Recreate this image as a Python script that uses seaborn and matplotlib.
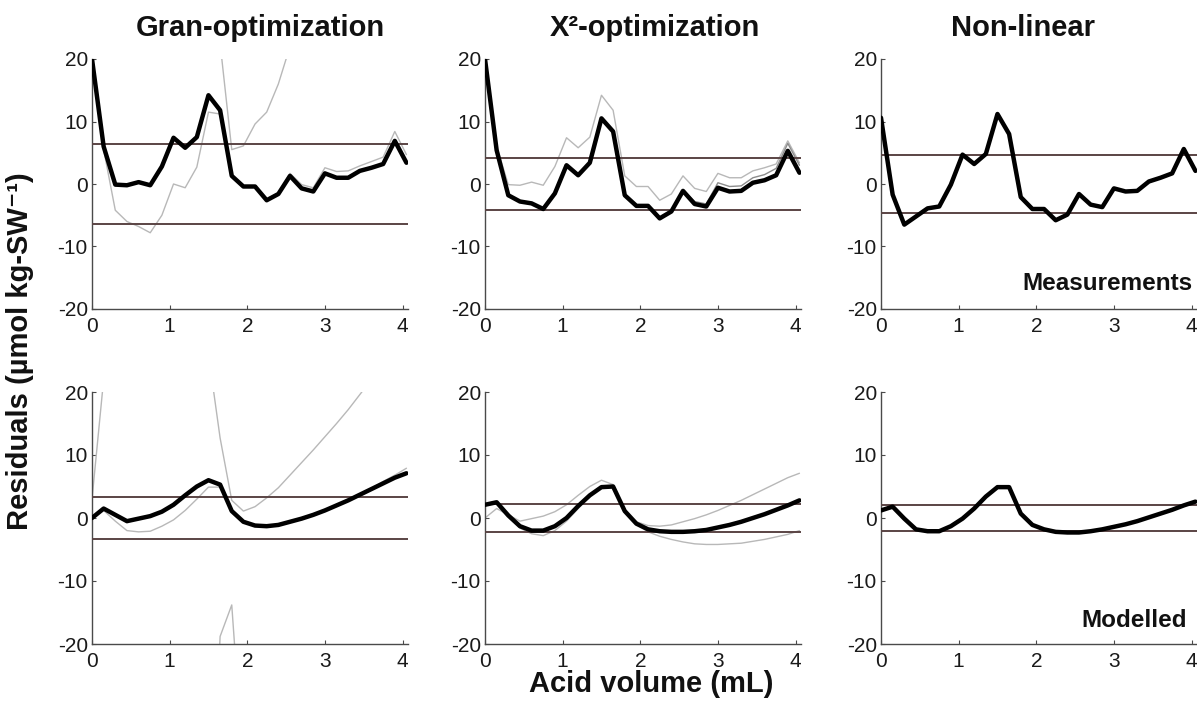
import numpy as np
import pandas as pd
import matplotlib
matplotlib.use("Agg")
import matplotlib.pyplot as plt
import seaborn as sns

# ---------------- data ----------------
acid_volume = [0.00, 0.15, 0.30, 0.45, 0.60, 0.75, 0.90, 1.05, 1.20, 1.35,
               1.50, 1.65, 1.80, 1.95, 2.10, 2.25, 2.40, 2.55, 2.70, 2.85,
               3.00, 3.15, 3.30, 3.45, 3.60, 3.75, 3.90, 4.05]

titles = ["Gran-optimization", "X\u00b2-optimization", "Non-linear"]
row_labels = ["Measurements", "Modelled"]

# Measurements row
gran_meas = [20, 6.0, -0.1, -0.2, 0.3, -0.2, 2.8, 7.4, 5.8, 7.5, 14.2, 11.8, 1.3, -0.4,
             -0.4, -2.6, -1.6, 1.3, -0.7, -1.2, 1.7, 1.0, 1.0, 2.1, 2.6, 3.2, 6.9, 3.4]
gran_meas_alt1 = [20, 5.5, -0.2, -0.3, 0.2, -0.3, 2.6, 7.2, 5.6, 7.3, 14.0, 11.6, 1.4, -0.3,
                  -0.3, -2.4, -1.4, 1.7, -0.1, -0.6, 2.6, 2.0, 2.1, 2.9, 3.6, 4.3, 8.4, 4.7]
gran_meas_alt2 = [20, 5.5, -4.2, -6.0, -6.8, -7.8, -5.0, 0.0, -0.6, 2.7, 11.5, 11.2, 1.3, -0.4,
                  -0.4, -2.6, -1.6, 1.3, -0.7, -1.2, 1.7, 1.0, 1.0, 2.1, 2.6, 3.2, 6.9, 3.4]
gran_meas_alt3 = [60, 60, 60, 60, 60, 60, 60, 60, 60, 60, 45, 22.5, 5.5, 6.1,
                  9.6, 11.5, 16.0, 22.0, 30, 40, 50, 60, 60, 60, 60, 60, 60, 60]

chi_meas = [20, 5.4, -1.8, -2.8, -3.1, -4.0, -1.5, 3.0, 1.4, 3.4, 10.5, 8.4, -1.8, -3.5,
            -3.5, -5.5, -4.4, -1.1, -3.2, -3.6, -0.6, -1.2, -1.1, 0.2, 0.6, 1.4, 5.3, 1.8]
chi_meas_alt = [20, 5.4, -1.8, -2.8, -3.1, -4.0, -1.5, 3.0, 1.4, 3.4, 10.5, 8.4, -1.8, -3.4,
                -3.4, -5.3, -4.2, -1.0, -2.8, -3.2, 0.2, -0.4, -0.3, 1.0, 1.5, 2.5, 6.5, 3.0]

nl_meas = [10.6, -1.7, -6.5, -5.2, -3.9, -3.6, -0.1, 4.7, 3.2, 4.8, 11.2, 8.0, -2.1, -4.0,
           -4.0, -5.8, -4.9, -1.6, -3.3, -3.7, -0.7, -1.2, -1.1, 0.4, 1.0, 1.7, 5.6, 2.1]

# Modelled row
gran_mod = [0.0, 1.5, 0.5, -0.5, -0.1, 0.3, 1.0, 2.1, 3.6, 5.0, 6.0, 5.3, 1.1, -0.6,
            -1.2, -1.3, -1.1, -0.6, -0.1, 0.5, 1.2, 2.0, 2.8, 3.7, 4.6, 5.5, 6.4, 7.1]
gran_mod_alt1 = [0.3, 1.2, -0.5, -2.0, -2.2, -2.1, -1.3, -0.3, 1.2, 3.0, 4.9, 4.9, 1.0, -0.6,
                 -1.2, -1.3, -1.1, -0.6, -0.1, 0.5, 1.2, 2.0, 2.8, 3.7, 4.7, 5.8, 6.8, 7.9]
gran_mod_alt2 = [3.0, 22, 60, 60, 60, 60, 60, 60, 60, 60, 26, 12.7, 2.8, 1.1,
                 1.8, 3.2, 4.8, 6.8, 8.8, 10.8, 12.9, 15.0, 17.2, 19.6, 22.0, 24.5, 27.0, 29.5]
gran_mod_alt3 = [-60, -60, -60, -60, -60, -60, -60, -60, -60, -60, -60, -18.8, -13.8, -40,
                 -60, -60, -60, -60, -60, -60, -60, -60, -60, -60, -60, -60, -60, -60]

chi_mod = [2.1, 2.5, 0.4, -1.3, -2.0, -2.0, -1.3, 0.0, 1.9, 3.6, 4.9, 5.0, 1.1, -0.9,
           -1.8, -2.1, -2.2, -2.2, -2.1, -1.9, -1.5, -1.1, -0.6, 0.0, 0.6, 1.3, 2.0, 2.8]
chi_mod_alt = [2.1, 2.5, 0.2, -1.6, -2.5, -2.8, -2.0, -0.5, 1.5, 3.5, 4.9, 5.0, 1.0, -1.0,
               -2.2, -2.9, -3.4, -3.8, -4.1, -4.2, -4.2, -4.1, -4.0, -3.7, -3.4, -3.0, -2.6, -2.0]

nl_mod = [1.2, 1.8, -0.1, -1.8, -2.1, -2.1, -1.3, -0.1, 1.5, 3.4, 4.9, 4.9, 0.7, -1.1,
          -1.8, -2.2, -2.3, -2.3, -2.1, -1.8, -1.4, -1.0, -0.5, 0.1, 0.7, 1.3, 2.0, 2.6]

# uncertainty band (+/-) per panel
band_meas = [6.4, 4.2, 4.7]
band_mod = [3.3, 2.3, 2.1]

x_ticks = [0, 1, 2, 3, 4]
y_ticks = [-20, -10, 0, 10, 20]

# ---------------- style ----------------
sns.set_theme(style="white")
plt.rcParams["font.family"] = ["Liberation Sans", "DejaVu Sans"]
plt.rcParams["axes.unicode_minus"] = False

LIGHT = "#b8b8b8"
MID = "#8c8c8c"
BAND = "#5a4444"
AXC = "#4a4a4a"

fig = plt.figure(figsize=(11.97, 7.13), dpi=100)
W, H = 1197, 713
lefts = [92, 485, 881]
aw = 316
rows = [(59, 309), (392, 644)]

panels = [
    # row 0
    [dict(black=gran_meas, light=[gran_meas_alt1, gran_meas_alt2, gran_meas_alt3], mid=[], band=band_meas[0]),
     dict(black=chi_meas, light=[gran_meas], mid=[chi_meas_alt], band=band_meas[1]),
     dict(black=nl_meas, light=[], mid=[], band=band_meas[2])],
    # row 1
    [dict(black=gran_mod, light=[gran_mod_alt1, gran_mod_alt2, gran_mod_alt3], mid=[], band=band_mod[0]),
     dict(black=chi_mod, light=[gran_mod, chi_mod_alt], mid=[], band=band_mod[1]),
     dict(black=nl_mod, light=[], mid=[], band=band_mod[2])],
]

for r, (top, bot) in enumerate(rows):
    for c, left in enumerate(lefts):
        ax = fig.add_axes([left / W, (H - bot) / H, aw / W, (bot - top) / H])
        p = panels[r][c]
        for s in p["light"]:
            sns.lineplot(x=acid_volume, y=s, ax=ax, color=LIGHT, lw=1.0,
                         estimator=None, sort=False, legend=False)
        for s in p["mid"]:
            sns.lineplot(x=acid_volume, y=s, ax=ax, color=MID, lw=1.0,
                         estimator=None, sort=False, legend=False)
        ax.axhline(p["band"], color=BAND, lw=1.4, zorder=3)
        ax.axhline(-p["band"], color=BAND, lw=1.4, zorder=3)
        sns.lineplot(x=acid_volume, y=p["black"], ax=ax, color="black", lw=3.2,
                     estimator=None, sort=False, legend=False, zorder=4)
        ax.set_xlim(0, 4.07)
        ax.set_ylim(-20, 20)
        ax.set_xticks(x_ticks)
        ax.set_yticks(y_ticks)
        ax.set_xlabel("")
        ax.set_ylabel("")
        for sp in ["top", "right"]:
            ax.spines[sp].set_visible(False)
        for sp in ["left", "bottom"]:
            ax.spines[sp].set_color(AXC)
            ax.spines[sp].set_linewidth(1.0)
        ax.tick_params(direction="in", length=3, width=0.8, color=AXC,
                       labelsize=15, labelcolor="#1a1a1a",
                       left=True, bottom=True)
        ax.tick_params(axis="x", pad=6)
        ax.tick_params(axis="y", pad=3)
        ax.patch.set_alpha(0)
        if c == 2:
            ax.text(0.987 if r == 0 else 0.968, 0.076 if r == 0 else 0.067,
                    row_labels[r], transform=ax.transAxes, ha="right", va="baseline",
                    fontsize=17.5, fontweight="bold", color="#111111")

title_x = [260, 655, 1023]
for t, tx in zip(titles, title_x):
    fig.text(tx / W, 1 - 36 / H, t, ha="center", va="baseline",
             fontsize=21, fontweight="bold", color="#111111")

fig.text(651 / W, 1 - 684 / H, "Acid volume (mL)", ha="center", va="center",
         fontsize=21, fontweight="bold", color="#111111")
fig.text(20 / W, 1 - 351 / H, "Residuals (\u00b5mol kg-SW\u207b\u00b9)", ha="center", va="center",
         rotation=90, fontsize=21, fontweight="bold", color="#111111")

fig.savefig("out.png", dpi=100)
